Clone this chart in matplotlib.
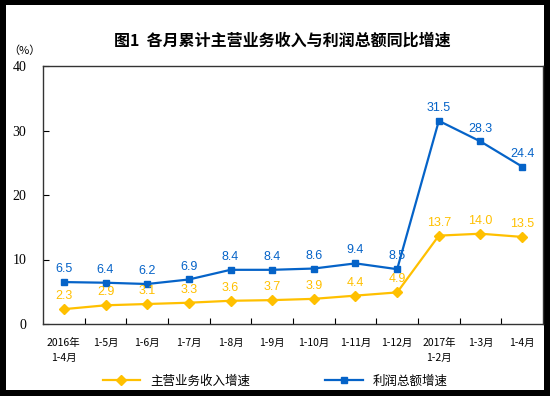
import matplotlib.pyplot as plt
import numpy as np
from matplotlib.patches import Rectangle

plt.rcParams['font.family'] = ['Liberation Sans', 'Noto Sans CJK SC']

months = ['2016年\n1-4月', '1-5月', '1-6月', '1-7月', '1-8月', '1-9月', '1-10月',
          '1-11月', '1-12月', '2017年\n1-2月', '1-3月', '1-4月']
revenue = [2.3, 2.9, 3.1, 3.3, 3.6, 3.7, 3.9, 4.4, 4.9, 13.7, 14.0, 13.5]
profit = [6.5, 6.4, 6.2, 6.9, 8.4, 8.4, 8.6, 9.4, 8.5, 31.5, 28.3, 24.4]

gold = '#FFC000'
blue = '#0563C8'

fig = plt.figure(figsize=(5.5, 3.96), dpi=100, facecolor='black')
fig.patches.append(Rectangle((6/550, 6/396), 538/550, 385/396,
                             transform=fig.transFigure, facecolor='white',
                             edgecolor='none', zorder=-10))
ax = fig.add_axes([43/550, 72/396, 500/550, 258/396])
ax.set_zorder(1)

x = np.arange(len(months))
ax.plot(x, revenue, color=gold, lw=1.6, marker='D', ms=5, label='主营业务收入增速')
ax.plot(x, profit, color=blue, lw=1.6, marker='s', ms=4.5, label='利润总额增速')

for i in range(len(x)):
    ax.annotate(f'{revenue[i]:.1f}', (x[i], revenue[i]), xytext=(0, 5),
                textcoords='offset points', ha='center', va='bottom',
                color=gold, fontsize=9)
    ax.annotate(f'{profit[i]:.1f}', (x[i], profit[i]), xytext=(0, 5),
                textcoords='offset points', ha='center', va='bottom',
                color=blue, fontsize=9)

ax.set_xlim(-0.5, len(months) - 0.5)
ax.set_ylim(0, 40)
ax.set_yticks([0, 10, 20, 30, 40])
ax.set_yticklabels(['0', '10', '20', '30', '40'], family='Liberation Serif',
                   fontsize=10)
ax.set_xticks(x[:-1] + 0.5)
ax.set_xticklabels([])
ax.set_xticks(x, minor=True)
ax.set_xticklabels(months, minor=True, fontsize=7.5, family=['Noto Sans CJK SC'],
                   linespacing=1.6, va='top')
ax.tick_params(axis='x', which='minor', length=0, pad=10)
ax.tick_params(axis='x', which='major', direction='in', length=4)
ax.tick_params(axis='y', direction='in', length=4, pad=12)
for s in ax.spines.values():
    s.set_color('#333333')
    s.set_linewidth(1.0)

fig.text(282/550, 1 - 41/396, '图1  各月累计主营业务收入与利润总额同比增速',
         ha='center', va='center', fontsize=11.5, fontweight='bold',
         family=['Noto Sans CJK SC'])
fig.text(24/550, 1 - 51/396, '（%）', ha='center', va='center', fontsize=8,
         family=['Noto Sans CJK SC'])

fig.legend(loc='center', bbox_to_anchor=(275/550, 1 - 381/396), ncol=2,
           frameon=False, handlelength=3, columnspacing=6,
           prop={'family': ['Noto Sans CJK SC'], 'size': 9})

fig.savefig('out.png', facecolor=fig.get_facecolor())
